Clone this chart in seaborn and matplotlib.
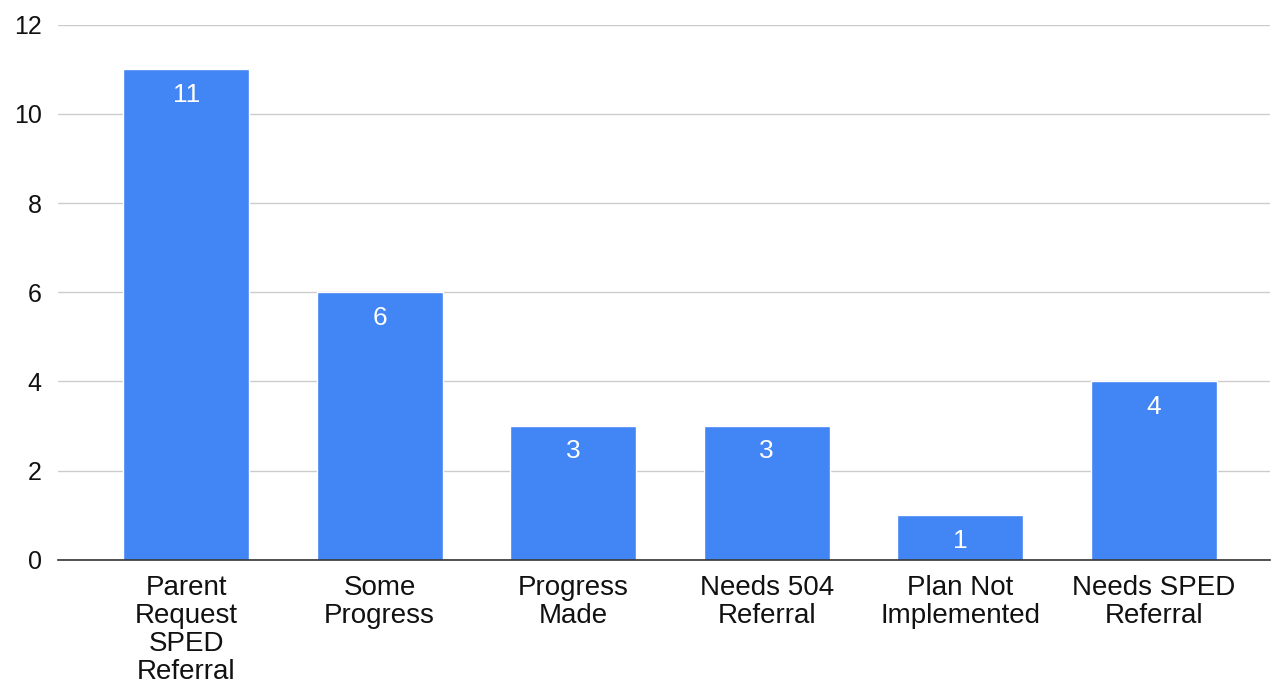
import pandas as pd
import matplotlib.pyplot as plt
import seaborn as sns

# Chart data
categories = ['Parent\nRequest\nSPED\nReferral', 'Some\nProgress', 'Progress\nMade',
              'Needs 504\nReferral', 'Plan Not\nImplemented', 'Needs SPED\nReferral']
counts = [11, 6, 3, 3, 1, 4]
y_ticks = [0, 2, 4, 6, 8, 10, 12]

df = pd.DataFrame({'category': categories, 'count': counts})

sns.set_theme(style='white')
plt.rcParams['font.family'] = ['Liberation Sans', 'DejaVu Sans']

fig = plt.figure(figsize=(12.71, 6.86), dpi=100)
ax = fig.add_axes([0.046, 0.184, 0.953, 0.780])

sns.barplot(data=df, x='category', y='count', color='#4285F4', saturation=1,
            width=0.65, ax=ax, zorder=3)

# white value labels just inside the bar tops
for i, v in enumerate(counts):
    ax.text(i, v - 0.3, str(v), ha='center', va='top', color='white', fontsize=19, zorder=4)

ax.set_ylim(0, 12)
ax.set_xlim(-0.66, 5.6)
ax.set_yticks(y_ticks)
ax.set_yticklabels([str(t) for t in y_ticks], fontsize=18, color='#111111')
ax.tick_params(axis='x', labelsize=20, colors='#111111', length=0, pad=11)
ax.tick_params(axis='y', length=0, pad=12)
for lbl in ax.get_xticklabels():
    lbl.set_linespacing(1.1)
ax.set_xlabel('')
ax.set_ylabel('')
ax.grid(axis='y', color='#cccccc', linewidth=1, zorder=0)
for s in ['top', 'right', 'left']:
    ax.spines[s].set_visible(False)
ax.spines['bottom'].set_color('#333333')
ax.spines['bottom'].set_linewidth(1.2)
ax.spines['bottom'].set_zorder(5)

plt.savefig('out.png', dpi=100)
plt.close()
